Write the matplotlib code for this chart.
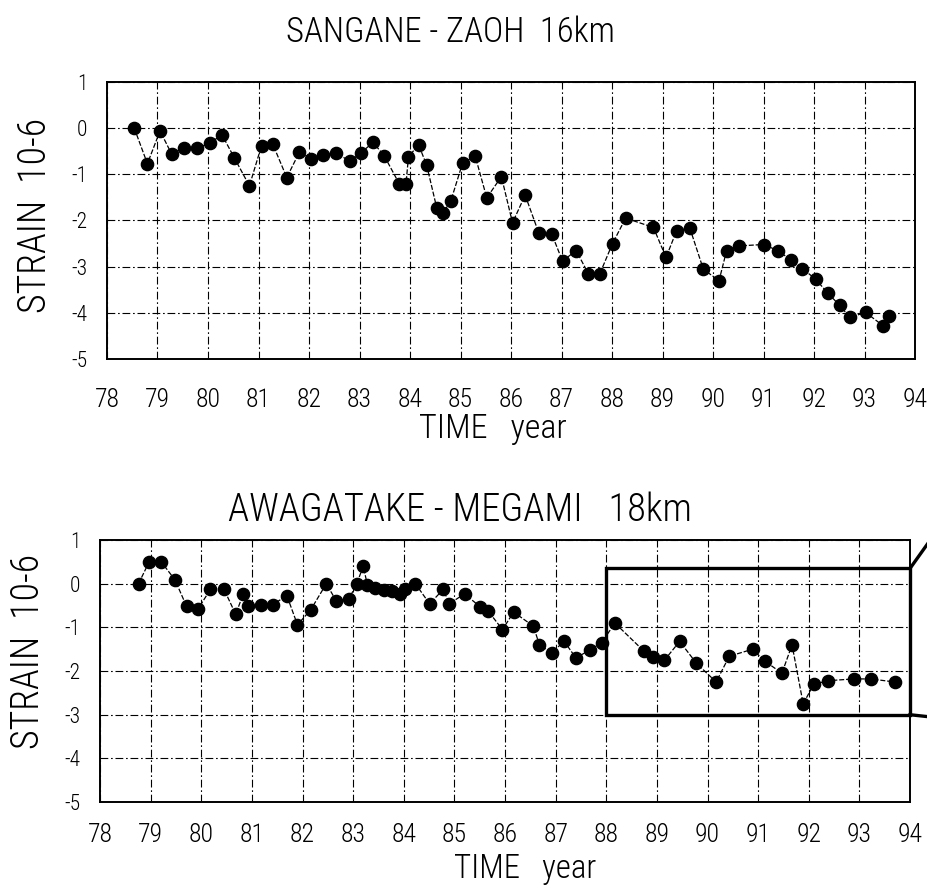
import matplotlib
matplotlib.use('Agg')
import matplotlib.pyplot as plt
from matplotlib import font_manager
from matplotlib.patches import Rectangle

# the scan uses a thin, narrow lettering; take the first narrow face we have
wanted = ['Liberation Sans Narrow', 'Roboto Condensed', 'PT Sans Narrow', 'Archivo Narrow',
          'Fira Sans Condensed', 'Barlow Condensed', 'Open Sans Condensed',
          'IBM Plex Sans Condensed', 'Encode Sans Condensed', 'Ubuntu Condensed',
          'Asap Condensed', 'Saira Condensed', 'DejaVu Sans']
have = {f.name for f in font_manager.fontManager.ttflist}
face = next(n for n in wanted if n in have)
plt.rcParams['font.family'] = [face, 'DejaVu Sans']
plt.rcParams['font.weight'] = 'light'

# decimal year / strain (10^-6)
top_year = [78.54, 78.80, 79.05, 79.28, 79.53, 79.79, 80.03, 80.28, 80.52, 80.82,
            81.06, 81.28, 81.56, 81.81, 82.04, 82.28, 82.53, 82.81, 83.02, 83.27,
            83.49, 83.79, 83.92, 83.97, 84.17, 84.33, 84.53, 84.65, 84.81, 85.04,
            85.29, 85.52, 85.81, 86.03, 86.28, 86.55, 86.81, 87.02, 87.29, 87.53,
            87.76, 88.01, 88.27, 88.82, 89.07, 89.28, 89.54, 89.81, 90.12, 90.27,
            90.52, 91.00, 91.28, 91.54, 91.77, 92.03, 92.28, 92.51, 92.71, 93.02,
            93.37, 93.49]
top_strain = [0.0, -0.77, -0.06, -0.56, -0.42, -0.44, -0.32, -0.15, -0.64, -1.25,
              -0.38, -0.34, -1.07, -0.52, -0.66, -0.59, -0.53, -0.72, -0.54, -0.31,
              -0.60, -1.21, -1.21, -0.62, -0.36, -0.80, -1.73, -1.84, -1.57, -0.76,
              -0.60, -1.51, -1.05, -2.05, -1.45, -2.27, -2.30, -2.88, -2.65, -3.15,
              -3.15, -2.50, -1.95, -2.15, -2.80, -2.22, -2.16, -3.06, -3.30, -2.65,
              -2.55, -2.52, -2.65, -2.85, -3.04, -3.27, -3.58, -3.84, -4.10, -3.99,
              -4.28, -4.06]

bot_year = [78.76, 78.97, 79.21, 79.48, 79.71, 79.94, 80.18, 80.45, 80.68, 80.83,
            80.93, 81.17, 81.41, 81.69, 81.90, 82.16, 82.47, 82.67, 82.92, 83.07,
            83.20, 83.28, 83.43, 83.60, 83.76, 83.93, 84.03, 84.23, 84.51, 84.78,
            84.90, 85.20, 85.51, 85.67, 85.95, 86.17, 86.56, 86.68, 86.92, 87.17,
            87.40, 87.67, 87.91, 88.17, 88.75, 88.93, 89.15, 89.45, 89.78, 90.17,
            90.43, 90.89, 91.13, 91.47, 91.67, 91.89, 92.10, 92.39, 92.89, 93.22,
            93.70]
bot_strain = [0.0, 0.50, 0.50, 0.09, -0.52, -0.57, -0.13, -0.13, -0.70, -0.23,
              -0.50, -0.48, -0.48, -0.27, -0.94, -0.60, 0.0, -0.40, -0.34, 0.0,
              0.40, -0.02, -0.10, -0.15, -0.17, -0.24, -0.11, 0.0, -0.46, -0.13,
              -0.46, -0.23, -0.53, -0.63, -1.05, -0.65, -0.97, -1.40, -1.58, -1.32,
              -1.70, -1.52, -1.35, -0.90, -1.55, -1.68, -1.75, -1.32, -1.82, -2.25,
              -1.66, -1.50, -1.77, -2.05, -1.40, -2.75, -2.30, -2.22, -2.18, -2.18,
              -2.25]

year_ticks = list(range(78, 95))
strain_ticks = [1, 0, -1, -2, -3, -4, -5]

titles = ['SANGANE - ZAOH  16km', 'AWAGATAKE - MEGAMI   18km']
xlabel = 'TIME   year'
ylabel = 'STRAIN  10-6'

# highlighted window on the lower panel: years, strain
box_years = (88.0, 94.0)
box_strain = (-3.0, 0.35)

fig = plt.figure(figsize=(9.28, 8.88), dpi=100)
ax_top = fig.add_axes([0.1153, 0.5957, 0.8707, 0.312])
ax_bot = fig.add_axes([0.1078, 0.0968, 0.8728, 0.295])

# text centres (figure fraction) and target widths in pixels, from the scan
layout = {
    ax_top: dict(title=(0.485, 0.964, 330), xlab=(0.531, 0.517, 148), ylab=(0.038, 0.757, 195)),
    ax_bot: dict(title=(0.496, 0.425, 465), xlab=(0.566, 0.021, 142), ylab=(0.030, 0.266, 195)),
}

panels = [(ax_top, top_year, top_strain, titles[0], 29),
          (ax_bot, bot_year, bot_strain, titles[1], 21)]

fitted = []
for ax, xs, ys, title, xpad in panels:
    ax.plot(xs, ys, color='black', linewidth=0.9, linestyle=(0, (4, 1.5)),
            marker='o', markersize=8.8, markerfacecolor='black',
            markeredgecolor='black', zorder=4)
    ax.set_xlim(78, 94)
    ax.set_ylim(-5, 1)
    ax.set_xticks(year_ticks)
    ax.set_xticklabels([str(y) for y in year_ticks], fontsize=18.5)
    ax.set_yticks(strain_ticks)
    ax.set_yticklabels([str(v) for v in strain_ticks], fontsize=15.5)
    ax.tick_params(length=0)
    ax.tick_params(axis='x', pad=xpad * 0.72)
    ax.tick_params(axis='y', pad=14)
    ax.grid(True, color='black', linewidth=0.8, linestyle=(0, (7, 2.5, 1.5, 2.5)))
    for sp in ax.spines.values():
        sp.set_linewidth(1.4)

    pos = layout[ax]
    t = fig.text(pos['title'][0], pos['title'][1], title, ha='center', va='center', fontsize=24)
    xl = fig.text(pos['xlab'][0], pos['xlab'][1], xlabel, ha='center', va='center', fontsize=20)
    yl = fig.text(pos['ylab'][0], pos['ylab'][1], ylabel, ha='center', va='center',
                  rotation=90, fontsize=20)
    fitted += [(t, pos['title'][2], 'w'), (xl, pos['xlab'][2], 'w'), (yl, pos['ylab'][2], 'h')]

# box around the last few years on the lower panel, with the pointer lines
bx0, bx1 = box_years
by0, by1 = box_strain
ax_bot.add_patch(Rectangle((bx0, by0), bx1 - bx0, by1 - by0, fill=False,
                           edgecolor='black', linewidth=2.4, zorder=5, clip_on=False))
ax_bot.plot([bx1, 94.4], [by1, 1.0], color='black', linewidth=2.4, clip_on=False)
ax_bot.plot([bx1, 94.4], [by0, by0 - 0.05], color='black', linewidth=2.4, clip_on=False)

# scale the lettering so it takes the same room as on the scan, whatever face was found
fig.canvas.draw()
rend = fig.canvas.get_renderer()
for txt, target, side in fitted:
    bb = txt.get_window_extent(rend)
    size = bb.width if side == 'w' else bb.height
    txt.set_fontsize(txt.get_fontsize() * target / size)

fig.savefig('out.png', dpi=100)
